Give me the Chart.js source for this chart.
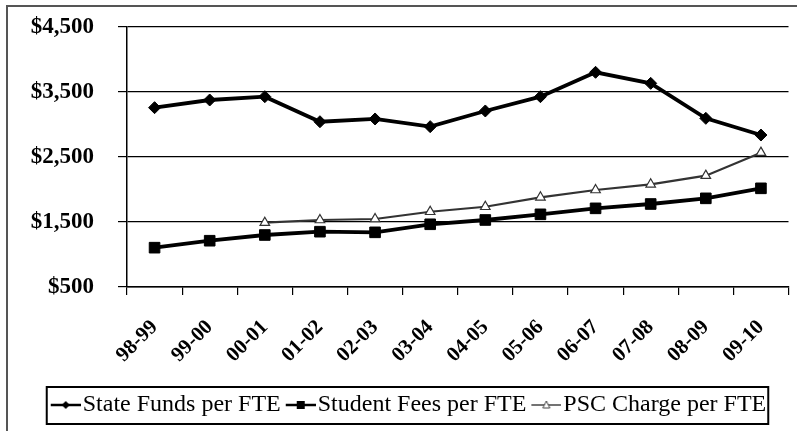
<!DOCTYPE html>
<html>
<head>
<meta charset="utf-8">
<script src="https://cdn.jsdelivr.net/npm/chart.js@4.4.0/dist/chart.umd.min.js"></script>
<style>
    body { margin: 0; background: #fff; }
    #wrap { position: relative; width: 797px; height: 431px; }
    #frame { position: absolute; left: 6px; top: 5px; right: 0; bottom: 0; border-left: 2px solid #555; border-top: 2px solid #555; pointer-events: none; }
</style>
</head>
<body>
<div id="wrap">
    <canvas id="chart" width="797" height="431"></canvas>
    <div id="frame"></div>
</div>
<script>
const categories = ['98-99', '99-00', '00-01', '01-02', '02-03', '03-04', '04-05', '05-06', '06-07', '07-08', '08-09', '09-10'];
const stateFunds = [3259, 3377, 3428, 3043, 3085, 2967, 3208, 3428, 3803, 3633, 3095, 2838];
const studentFees = [1105, 1212, 1300, 1351, 1341, 1465, 1531, 1618, 1710, 1777, 1864, 2018];
const pscCharge = [null, null, 1489, 1531, 1546, 1658, 1735, 1880, 1992, 2080, 2213, 2567];
const yTicks = [500, 1500, 2500, 3500, 4500];
const seriesNames = ['State Funds per FTE', 'Student Fees per FTE', 'PSC Charge per FTE'];

// little line+marker icons for the legend
function legendIcon(kind) {
    const c = document.createElement('canvas');
    c.width = 40;
    c.height = 14;
    const g = c.getContext('2d');
    g.strokeStyle = kind === 'tri' ? '#444' : '#000';
    g.lineWidth = kind === 'tri' ? 1.5 : 2.5;
    g.beginPath();
    g.moveTo(10, 7);
    g.lineTo(40, 7);
    g.stroke();
    g.fillStyle = '#000';
    if (kind === 'diamond') {
        g.beginPath();
        g.moveTo(25, 3); g.lineTo(29, 7); g.lineTo(25, 11); g.lineTo(21, 7);
        g.closePath();
        g.fill();
    } else if (kind === 'square') {
        g.fillRect(21, 3, 8, 8);
    } else {
        g.fillStyle = '#fff';
        g.lineWidth = 1;
        g.beginPath();
        g.moveTo(25, 3); g.lineTo(28.5, 10); g.lineTo(21.5, 10);
        g.closePath();
        g.fill();
        g.stroke();
    }
    return c;
}
const icons = [legendIcon('diamond'), legendIcon('square'), legendIcon('tri')];

const legendBox = {
    id: 'legendBox',
    afterDraw(chart) {
        const boxes = chart.legend.legendHitBoxes;
        if (!boxes || !boxes.length) return;
        const first = boxes[0];
        const last = boxes[boxes.length - 1];
        const ctx = chart.ctx;
        ctx.save();
        ctx.strokeStyle = '#000';
        ctx.lineWidth = 2;
        ctx.strokeRect(first.left - 4, first.top - 6, last.left + last.width - first.left + 6, first.height + 13);
        ctx.restore();
    }
};

new Chart(document.getElementById('chart'), {
    type: 'line',
    data: {
        labels: categories,
        datasets: [
            {
                label: seriesNames[0],
                data: stateFunds,
                borderColor: '#000',
                backgroundColor: '#000',
                borderWidth: 3.8,
                pointStyle: 'rectRot',
                pointRadius: 6,
                pointBorderWidth: 1
            },
            {
                label: seriesNames[1],
                data: studentFees,
                borderColor: '#000',
                backgroundColor: '#000',
                borderWidth: 3.8,
                pointStyle: 'rect',
                pointRadius: 7.5,
                pointBorderWidth: 1
            },
            {
                label: seriesNames[2],
                data: pscCharge,
                borderColor: '#333',
                backgroundColor: '#fff',
                borderWidth: 2.2,
                pointStyle: 'triangle',
                pointRadius: 5.5,
                pointBorderColor: '#333',
                pointBorderWidth: 1.2
            }
        ]
    },
    options: {
        responsive: false,
        animation: false,
        devicePixelRatio: 1,
        layout: { padding: { left: 25, right: 5, top: 27, bottom: 4 } },
        elements: { line: { tension: 0 } },
        scales: {
            x: {
                offset: true,
                afterFit(scale) {
                    scale.height = 101;
                    scale.paddingLeft = 0;
                    scale.paddingRight = 0;
                },
                border: { color: '#000', width: 1.5 },
                grid: { drawOnChartArea: false, color: '#000', lineWidth: 1.2, tickLength: 8, offset: true },
                ticks: {
                    color: '#000',
                    autoSkip: false,
                    minRotation: 45,
                    maxRotation: 45,
                    padding: 20,
                    font: { family: '"Liberation Serif", serif', size: 21, weight: 'bold' }
                }
            },
            y: {
                min: 500,
                max: 4500,
                afterFit(scale) {
                    scale.width = 102;
                    scale.paddingTop = 0;
                    scale.paddingBottom = 0;
                },
                afterBuildTicks(scale) { scale.ticks = yTicks.map(v => ({ value: v })); },
                border: { color: '#000', width: 1.5 },
                grid: { color: '#000', lineWidth: 1.2, tickLength: 9 },
                ticks: {
                    color: '#000',
                    padding: 24,
                    font: { family: '"Liberation Serif", serif', size: 23, weight: 'bold' },
                    callback: v => '$' + v.toLocaleString('en-US')
                }
            }
        },
        plugins: {
            tooltip: { enabled: false },
            legend: {
                position: 'bottom',
                labels: {
                    usePointStyle: true,
                    pointStyleWidth: 20,
                    padding: 5,
                    color: '#000',
                    font: { family: '"Liberation Serif", serif', size: 24 },
                    generateLabels: chart => chart.data.datasets.map((ds, i) => ({
                        text: ds.label,
                        pointStyle: icons[i],
                        fontColor: '#000',
                        lineWidth: 0,
                        strokeStyle: 'transparent',
                        fillStyle: 'transparent',
                        hidden: false,
                        datasetIndex: i
                    }))
                }
            }
        }
    },
    plugins: [legendBox]
});
</script>
</body>
</html>
